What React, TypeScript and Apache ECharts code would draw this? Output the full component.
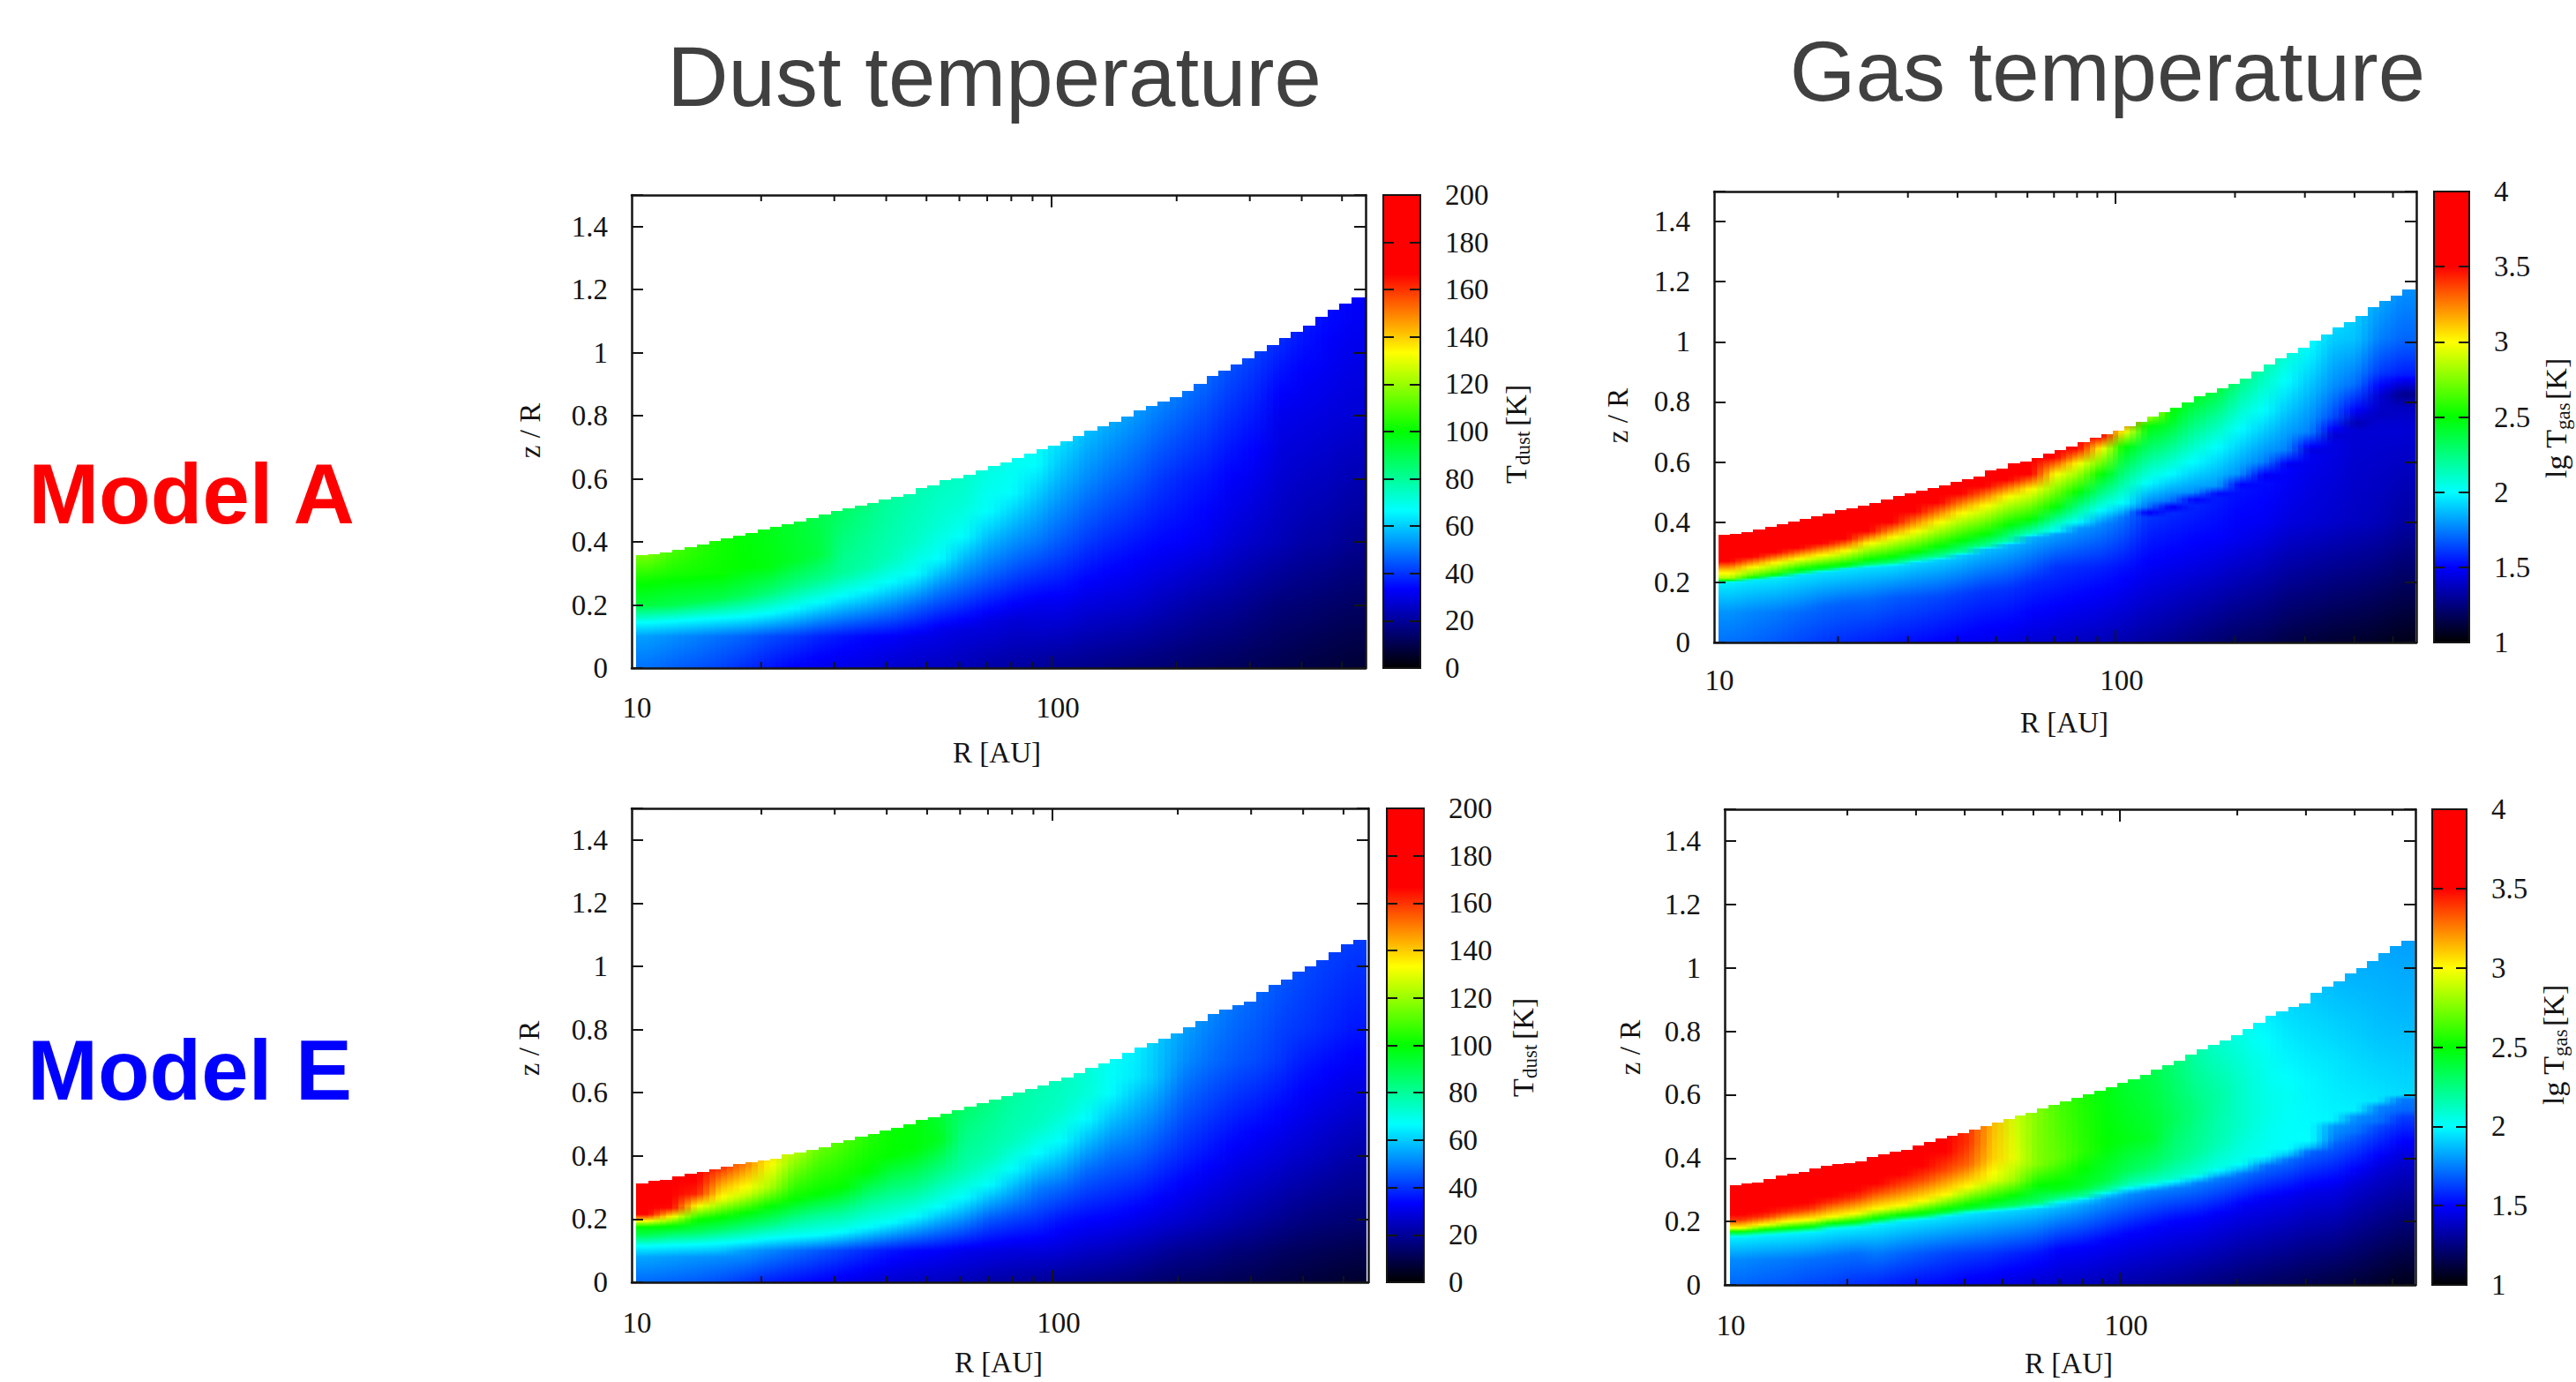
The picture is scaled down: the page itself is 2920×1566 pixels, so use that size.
import React, { useEffect, useRef } from "react";
import * as echarts from "echarts";

const radiusEdges = [10,10.7,11.4,12.2,13.1,14,15,16,17.1,18.3,19.6,21,22.4,24,25.7,27.5,29.4,31.4,33.6,36,38.4,41,43.9,47,50.2,53.7,57.4,61.4,65.7,70.3,75.2,80.4,86,92,98.3,105,112.5,120,128.7,137.6,147,157.5,168.5,180,192.7,206,220,236,252,270,288,308,330,353,377,403,431,461,493,527,569];
const surfaceA = [.358,.362,.368,.376,.384,.393,.403,.412,.42,.429,.439,.447,.455,.465,.475,.488,.497,.506,.514,.523,.535,.544,.551,.572,.578,.596,.603,.614,.628,.64,.652,.667,.681,.693,.704,.718,.735,.752,.766,.78,.797,.818,.832,.846,.86,.878,.9,.925,.944,.962,.981,1.005,1.025,1.047,1.066,1.085,1.115,1.136,1.155,1.175];
const surfaceE = [.314,.32,.323,.335,.344,.35,.357,.366,.375,.381,.385,.39,.404,.412,.42,.426,.44,.45,.461,.47,.48,.49,.501,.513,.522,.534,.544,.556,.568,.579,.59,.601,.613,.624,.636,.648,.661,.678,.692,.708,.725,.742,.757,.772,.788,.806,.826,.848,.862,.876,.888,.92,.94,.958,.982,1,1.02,1.045,1.07,1.085];
const minorTicks = [20,30,40,50,60,70,80,90,200,300,400,500];
const dustTicks = { min: 0, max: 200, interval: 20 };
const gasTicks = { min: 1, max: 4, interval: 0.5 };

// z/R, value pairs read up each column of each panel
const dustA = [
[0,48,.1,54,.145,67,.2,92,.28,102,.36,116],[0,46,.1,52,.15,67,.2,90,.3,103,.38,110],[0,44,.1,50,.155,67,.21,90,.3,102,.4,106],[0,42,.1,48,.16,67,.22,90,.3,101,.42,102],
[0,39,.1,46,.165,67,.23,88,.32,100,.44,99],[0,36,.1,43,.175,67,.24,85,.32,98,.46,97],[0,33,.1,41,.19,67,.26,83,.34,95,.48,94],[0,31,.1,38,.21,67,.28,82,.36,92,.5,90],
[0,30,.1,36,.23,67,.3,80,.52,88],[0,29,.1,34,.25,67,.32,78,.54,84],[0,27,.1,33,.2,52,.275,67,.35,76,.56,80],[0,26,.1,31,.2,47,.3,67,.4,74,.6,78],
[0,25,.12,31,.25,50,.35,67,.45,72,.62,76],[0,24,.12,29,.3,52,.42,67,.52,72,.65,75],[0,22,.15,30,.3,47,.5,67,.68,72],[0,21,.15,28,.35,48,.56,67,.72,70],
[0,20,.2,31,.4,49,.65,67,.72,68],[0,19,.2,31,.4,45,.6,57,.74,64],[0,18,.2,29,.4,41,.6,52,.78,60],[0,17,.2,28,.4,38,.6,48,.8,57],
[0,16,.2,27,.4,36,.6,45,.84,55],[0,15,.2,25,.4,34,.6,41,.86,52],[0,14,.2,23,.4,33,.6,38,.9,50],[0,13,.2,21,.4,31,.6,36,.95,48],
[0,12,.2,20,.4,28,.6,33,1,45],[0,11,.2,18,.4,26,.6,31,1.05,43],[0,10,.2,16,.4,24,.8,31,1.1,41],[0,9,.2,15,.4,22,.8,30,1.15,38],[0,8,.2,14,.4,21,.8,29,1.2,36],[0,7,.2,13,.4,19,.8,28,1.25,34]];

const gasA = [
[0,1.72,.1,1.79,.2,1.97,.208,2.6,.215,2.85,.24,3.1,.27,3.5,.36,3.65],[0,1.7,.1,1.76,.208,1.96,.214,2.45,.225,2.7,.25,3,.285,3.5,.38,3.65],[0,1.67,.1,1.74,.215,1.96,.222,2.4,.232,2.6,.265,3,.3,3.5,.4,3.65],[0,1.64,.1,1.71,.225,1.95,.232,2.35,.243,2.5,.278,3,.315,3.5,.42,3.65],
[0,1.61,.12,1.7,.235,1.95,.242,2.35,.252,2.5,.29,3,.33,3.5,.44,3.65],[0,1.58,.13,1.69,.245,1.95,.25,2.35,.26,2.5,.305,3,.345,3.5,.46,3.65],[0,1.56,.14,1.7,.25,1.94,.26,2.3,.275,2.5,.33,3,.37,3.5,.48,3.65],[0,1.54,.15,1.68,.255,1.94,.265,2.25,.285,2.5,.35,3,.4,3.5,.5,3.65],
[0,1.52,.15,1.66,.265,1.92,.275,2.2,.3,2.5,.37,3,.435,3.5,.52,3.62],[0,1.5,.15,1.64,.275,1.91,.285,2.2,.32,2.5,.4,3,.465,3.5,.54,3.6],[0,1.48,.16,1.62,.29,1.9,.3,2.2,.34,2.5,.43,3,.495,3.5,.56,3.6],[0,1.46,.17,1.6,.31,1.88,.32,2.2,.36,2.5,.455,3,.52,3.5,.59,3.6],
[0,1.45,.18,1.6,.325,1.87,.335,2.15,.39,2.5,.485,3,.54,3.5,.62,3.6],[0,1.42,.2,1.58,.35,1.85,.36,2.1,.41,2.5,.51,3,.56,3.5,.65,3.6],[0,1.4,.25,1.6,.36,1.82,.37,2,.39,2.1,.45,2.5,.56,3,.615,3.5,.67,3.6],[0,1.38,.25,1.58,.38,1.8,.4,2,.5,2.5,.595,3,.645,3.5,.69,3.6],
[0,1.36,.25,1.56,.395,1.77,.44,2,.56,2.5,.645,3,.685,3.5,.72,3.6],[0,1.34,.25,1.53,.415,1.72,.465,2,.65,2.5,.7,3,.74,3.4],[0,1.31,.3,1.52,.415,1.6,.432,1.48,.45,1.72,.53,2,.72,2.5,.76,2.95],[0,1.28,.3,1.5,.43,1.58,.45,1.47,.47,1.72,.56,2,.74,2.45,.8,2.55],
[0,1.25,.3,1.48,.455,1.57,.475,1.5,.5,1.78,.6,2,.82,2.45],[0,1.22,.35,1.5,.48,1.55,.495,1.52,.52,1.8,.65,2,.86,2.42],[0,1.19,.35,1.47,.505,1.53,.525,1.5,.56,1.78,.71,2,.92,2.33],[0,1.17,.4,1.48,.53,1.52,.555,1.48,.6,1.75,.77,2,.96,2.22],
[0,1.14,.4,1.44,.575,1.5,.59,1.47,.64,1.75,.87,2,1,2.12],[0,1.12,.4,1.42,.62,1.47,.64,1.44,.7,1.75,.95,1.97,1.05,2.03],[0,1.1,.4,1.4,.66,1.45,.69,1.42,.75,1.65,.85,1.78,1.1,1.97],[0,1.09,.4,1.38,.7,1.42,.73,1.35,.78,1.52,.86,1.72,1.01,1.88,1.15,1.92],[0,1.07,.4,1.36,.72,1.42,.76,1.38,.82,1.42,.9,1.62,1.01,1.75,1.2,1.87],[0,1.05,.4,1.32,.71,1.42,.78,1.38,.825,1.28,.89,1.55,1.01,1.7,1.25,1.82]];

const dustE = [
[0,47,.08,55,.115,67,.15,90,.175,100,.195,135,.215,167,.32,182],[0,46,.08,54,.118,67,.155,88,.18,102,.205,130,.235,165,.33,175],[0,45,.08,53,.12,67,.16,88,.2,102,.24,132,.28,162,.35,170],[0,43,.08,52,.125,67,.17,88,.21,102,.26,130,.36,160],
[0,40,.1,54,.13,67,.175,85,.22,100,.28,128,.37,150],[0,37,.1,51,.14,67,.185,84,.24,100,.3,122,.39,136],[0,35,.1,48,.145,67,.2,82,.26,100,.41,124],[0,33,.1,45,.15,67,.21,80,.28,100,.43,114],
[0,31,.1,42,.16,67,.22,80,.3,100,.45,110],[0,29,.1,39,.175,67,.25,80,.35,100,.47,105],[0,27,.1,36,.19,67,.27,80,.4,100,.5,101],[0,26,.1,34,.21,67,.3,82,.42,99,.52,99],
[0,25,.1,33,.24,67,.33,80,.45,96,.55,93],[0,24,.1,31,.27,67,.36,78,.58,88],[0,22,.1,30,.2,45,.31,67,.4,77,.6,84],[0,21,.1,29,.2,42,.36,67,.45,76,.62,80],
[0,20,.1,29,.3,50,.41,67,.5,75,.66,78],[0,19,.1,28,.2,36,.3,47,.45,67,.55,74,.7,76],[0,18,.1,26,.2,34,.35,47,.52,67,.6,72,.75,73],[0,17,.1,25,.2,33,.4,48,.6,67,.8,69],
[0,16,.1,23,.2,31,.4,46,.65,64,.84,66],[0,14,.1,21,.2,29,.4,42,.65,58,.9,61],[0,13,.1,19,.2,27,.4,38,.7,52,.95,58],[0,12,.1,18,.2,25,.4,35,.7,48,1,55],
[0,11,.1,16,.2,23,.4,32,.7,45,1.05,52],[0,10,.1,15,.2,21,.4,30,.7,43,1.1,50],[0,9,.1,13,.2,19,.4,28,.7,40,1.1,47],[0,8,.1,12,.2,17,.4,26,.8,40,1.15,45],[0,7,.1,11,.2,16,.4,24,.8,38,1.2,44],[0,6,.1,10,.2,15,.4,22,.8,36,1.2,43]];

const gasE = [
[0,1.7,.08,1.77,.15,1.97,.165,2.4,.18,3,.205,3.4,.23,3.55,.32,3.65],[0,1.68,.08,1.75,.155,1.97,.17,2.4,.19,3,.215,3.4,.24,3.55,.33,3.65],[0,1.66,.08,1.74,.16,1.97,.175,2.4,.2,3,.23,3.4,.26,3.55,.35,3.65],[0,1.64,.08,1.72,.165,1.97,.18,2.4,.205,3,.24,3.4,.27,3.55,.36,3.65],
[0,1.62,.09,1.72,.175,1.97,.19,2.4,.215,3,.26,3.4,.29,3.55,.38,3.65],[0,1.59,.1,1.72,.18,1.97,.195,2.4,.225,3,.275,3.4,.31,3.55,.4,3.65],[0,1.57,.1,1.74,.19,1.97,.205,2.4,.24,3,.29,3.35,.33,3.55,.42,3.65],[0,1.54,.1,1.7,.2,1.96,.215,2.4,.25,3,.31,3.35,.36,3.55,.44,3.65],
[0,1.52,.1,1.67,.205,1.95,.22,2.4,.265,3,.33,3.35,.39,3.55,.46,3.62],[0,1.5,.1,1.64,.215,1.95,.23,2.4,.285,3,.36,3.35,.42,3.5,.48,3.55],[0,1.47,.1,1.62,.225,1.95,.24,2.4,.31,3,.38,3.3,.45,3.4,.5,3.4],[0,1.45,.1,1.6,.23,1.93,.245,2.35,.33,2.95,.4,3.1,.52,3.15],
[0,1.43,.1,1.57,.235,1.92,.25,2.3,.33,2.8,.4,2.95,.54,2.9],[0,1.41,.1,1.54,.24,1.9,.26,2.3,.38,2.75,.56,2.75],[0,1.39,.11,1.5,.24,1.85,.258,1.95,.27,2.2,.3,2.45,.4,2.68,.58,2.63],[0,1.37,.12,1.5,.25,1.82,.268,1.93,.28,2.2,.31,2.42,.42,2.58,.6,2.55],
[0,1.35,.14,1.5,.27,1.8,.285,1.93,.3,2.2,.33,2.38,.44,2.5,.63,2.47],[0,1.33,.16,1.5,.285,1.78,.3,1.93,.315,2.15,.36,2.33,.46,2.46,.66,2.4],[0,1.31,.18,1.5,.295,1.75,.31,1.93,.325,2.12,.37,2.28,.46,2.42,.7,2.35],[0,1.29,.2,1.5,.305,1.75,.32,1.92,.335,2.1,.4,2.25,.52,2.33,.73,2.27],
[0,1.26,.21,1.5,.32,1.75,.335,1.92,.35,2.08,.42,2.2,.55,2.25,.76,2.16],[0,1.24,.22,1.48,.335,1.74,.35,1.9,.37,2.05,.45,2.15,.6,2.18,.8,2.08],[0,1.21,.25,1.48,.35,1.73,.365,1.88,.385,2.03,.5,2.1,.65,2.1,.85,2.02],[0,1.19,.27,1.48,.375,1.72,.39,1.88,.41,2.02,.55,2.05,.7,2.03,.9,1.95],
[0,1.17,.28,1.47,.395,1.72,.41,1.88,.43,2,.6,2.02,.95,1.9],[0,1.15,.29,1.45,.42,1.7,.435,1.88,.455,2,.65,1.98,1,1.87],[0,1.13,.3,1.45,.445,1.7,.46,1.75,.5,1.8,.52,1.98,.7,1.95,1,1.85],[0,1.11,.32,1.42,.47,1.68,.48,1.72,.53,1.78,.55,1.97,.8,1.9,1.05,1.83],[0,1.08,.36,1.42,.5,1.65,.515,1.72,.56,1.76,.58,1.95,.8,1.88,1.1,1.82],[0,1.05,.4,1.42,.53,1.62,.55,1.7,.585,1.74,.6,1.93,.85,1.86,1.15,1.8]];

const paletteAt = [0, 1 / 6, 2 / 6, 3 / 6, 4 / 6, 5 / 6, 1];
const paletteRgb = [[0,0,0],[0,0,255],[0,255,255],[0,255,0],[255,255,0],[255,0,0],[255,0,0]];

function colorAt(t: number) {
  const c = Math.max(0, Math.min(1, t));
  let i = 0;
  while (i < paletteAt.length - 2 && c > paletteAt[i + 1]) i++;
  const f = (c - paletteAt[i]) / (paletteAt[i + 1] - paletteAt[i]);
  const m = paletteRgb[i].map((a, j) => Math.round(a + (paletteRgb[i + 1][j] - a) * f));
  return `rgb(${m[0]},${m[1]},${m[2]})`;
}

function colorStops(profile: number[], lo: number, hi: number) {
  const zEnd = profile[profile.length - 2];
  const stops: { offset: number; color: string }[] = [];
  for (let i = 0; i + 1 < profile.length; i += 2) {
    const z = profile[i];
    const t = (profile[i + 1] - lo) / (hi - lo);
    if (i > 0) {
      const pz = profile[i - 2];
      const pt = (profile[i - 1] - lo) / (hi - lo);
      const crossing = paletteAt.filter((p) => (p > pt && p < t) || (p < pt && p > t));
      if (t < pt) crossing.reverse();
      crossing.forEach((p) => {
        stops.push({ offset: (pz + ((p - pt) / (t - pt)) * (z - pz)) / zEnd, color: colorAt(p) });
      });
    }
    stops.push({ offset: z / zEnd, color: colorAt(t) });
  }
  return stops;
}

const INK = "#141414";
const SERIF = "'Liberation Serif', 'Times New Roman', serif";
const SANS = "'Liberation Sans', Arial, sans-serif";

type Panel = {
  left: number; right: number; top: number; bottom: number; r10: number; decade: number;
  barL: number; barR: number; profiles: number[][]; surface: number[]; scale: typeof dustTicks;
  labelOffset: number; zLabel: [number, number]; rLabel: [number, number]; barTitle: [number, number];
  sub: string; prefix: string;
};

const panels: Panel[] = [
  { left: 716, right: 1548, top: 221, bottom: 757, r10: 721, decade: 471, barL: 1568, barR: 1610, profiles: dustA, surface: surfaceA, scale: dustTicks, labelOffset: 45, zLabel: [601, 488], rLabel: [1130, 853], barTitle: [1718, 490], sub: "dust", prefix: "T" },
  { left: 1943, right: 2739, top: 217, bottom: 728, r10: 1948, decade: 450, barL: 2759, barR: 2799, profiles: gasA, surface: surfaceA, scale: gasTicks, labelOffset: 43, zLabel: [1834, 471], rLabel: [2340, 819], barTitle: [2897, 473], sub: "gas", prefix: "lg T" },
  { left: 716, right: 1551, top: 916, bottom: 1453, r10: 721, decade: 472, barL: 1572, barR: 1614, profiles: dustE, surface: surfaceE, scale: dustTicks, labelOffset: 46, zLabel: [600, 1188], rLabel: [1132, 1544], barTitle: [1726, 1185], sub: "dust", prefix: "T" },
  { left: 1955, right: 2738, top: 917, bottom: 1456, r10: 1961, decade: 442, barL: 2757, barR: 2796, profiles: gasE, surface: surfaceE, scale: gasTicks, labelOffset: 46, zLabel: [1848, 1187], rLabel: [2345, 1545], barTitle: [2894, 1183], sub: "gas", prefix: "lg T" },
];

function buildOption() {
  const grid: any[] = [];
  const xAxis: any[] = [];
  const yAxis: any[] = [];
  const series: any[] = [];
  const graphic: any[] = [];
  const line = { show: true, onZero: false, lineStyle: { color: INK, width: 2.5 } };
  const tick = (len: number) => ({ show: true, inside: true, length: len, lineStyle: { color: INK, width: 2 } });

  panels.forEach((p) => {
    const g = grid.length;
    grid.push({ left: p.left, top: p.top, width: p.right - p.left, height: p.bottom - p.top });
    const rMin = Math.pow(10, 1 - (p.r10 - p.left) / p.decade);
    const rMax = Math.pow(10, 1 + (p.right - p.r10) / p.decade);
    const xi = xAxis.length;
    const yi = yAxis.length;
    ["bottom", "top"].forEach((position) => {
      xAxis.push({ type: "log", gridIndex: g, position, min: rMin, max: rMax, z: 10, axisLine: line, axisTick: { show: false }, axisLabel: { show: false }, splitLine: { show: false }, minorTick: { show: false } });
    });
    ["left", "right"].forEach((position, side) => {
      yAxis.push({
        type: "value", gridIndex: g, position, min: 0, max: 1.5, interval: 0.2, z: 10, axisLine: line, axisTick: tick(13), splitLine: { show: false },
        axisLabel: { show: side === 0, margin: 27, color: INK, fontFamily: SERIF, fontSize: 33, formatter: (v: number) => (v > 1.45 ? "" : String(+v.toFixed(1))) },
      });
    });
    const onAxes = { xAxisIndex: xi, yAxisIndex: yi, silent: true, clip: false };
    const cells = p.surface.map((top, k) => [radiusEdges[k], radiusEdges[k + 1], top, k]);
    const last = p.profiles.length - 1;
    series.push({
      ...onAxes, type: "custom", z: 2, encode: { x: 0, y: 2 }, data: cells,
      renderItem: (_: any, api: any) => {
        const k = api.value(3);
        const a = api.coord([api.value(0), 0]);
        const b = api.coord([api.value(1), api.value(2)]);
        const x0 = Math.round(a[0]);
        const x2 = Math.round(b[0]);
        const x1 = Math.round((a[0] + b[0]) / 2);
        const y = Math.round(b[1]);
        const paint = (profile: number[], x: number, w: number, opacity: number) => {
          const end = api.coord([api.value(0), profile[profile.length - 2]]);
          return {
            type: "rect",
            shape: { x, y, width: w, height: a[1] - y },
            style: {
              opacity,
              fill: { type: "linear", global: true, x: 0, y: a[1], x2: 0, y2: end[1], colorStops: colorStops(profile, p.scale.min, p.scale.max) },
              stroke: null,
            },
          };
        };
        const children: any[] = [];
        [[x0, x1, 0], [x1, x2, 1]].forEach(([xa, xb, j]) => {
          // shade each slice between the two columns it lies between
          const s = (k + (j + 0.5) / 2) / 2 - 0.5;
          const i = Math.max(0, Math.min(last, Math.floor(s)));
          const f = s - Math.floor(s);
          const w = xb - xa + 1;
          children.push(paint(p.profiles[i], xa, k === p.surface.length - 1 && j === 1 ? w - 1 : w, 1));
          if (s >= 0 && i < last) children.push(paint(p.profiles[i + 1], xa, w, f));
        });
        return { type: "group", children };
      },
    });
    series.push({
      ...onAxes, type: "custom", z: 11, encode: { x: 0, y: 1 }, data: [...minorTicks, 100].map((v) => [v, 0]),
      renderItem: (_: any, api: any) => {
        const v = api.value(0);
        const x = api.coord([v, 0])[0];
        const len = v === 100 ? 14 : 7;
        const st = { stroke: INK, lineWidth: 2 };
        return {
          type: "group",
          children: [
            { type: "line", shape: { x1: x, y1: p.bottom, x2: x, y2: p.bottom - len }, style: st },
            { type: "line", shape: { x1: x, y1: p.top, x2: x, y2: p.top + len }, style: st },
          ],
        };
      },
    });
    series.push({
      ...onAxes, type: "custom", z: 11, encode: { x: 0, y: 1 }, data: [[10, 0], [100, 0]],
      renderItem: (_: any, api: any) => {
        const v = api.value(0);
        const x = api.coord([v, 0])[0];
        return {
          type: "text", x: x + (v === 100 ? 7 : 1), y: p.bottom + p.labelOffset,
          style: { text: String(v), fill: INK, font: `33px ${SERIF}`, align: "center", verticalAlign: "middle" },
        };
      },
    });

    // colour bar
    const cg = grid.length;
    grid.push({ left: p.barL, top: p.top, width: p.barR - p.barL, height: p.bottom - p.top });
    const cxi = xAxis.length;
    const cyi = yAxis.length;
    xAxis.push({ type: "value", gridIndex: cg, min: 0, max: 1, show: false });
    ["left", "right"].forEach((position, side) => {
      yAxis.push({
        type: "value", gridIndex: cg, position, min: p.scale.min, max: p.scale.max, interval: p.scale.interval, z: 10, axisLine: { ...line, lineStyle: { color: INK, width: 2 } }, axisTick: tick(12), splitLine: { show: false },
        axisLabel: { show: side === 1, margin: 28, color: INK, fontFamily: SERIF, fontSize: 33 },
      });
    });
    series.push({
      type: "custom", xAxisIndex: cxi, yAxisIndex: cyi, silent: true, z: 2, encode: { x: 0, y: 1 }, data: [[0, p.scale.min, p.scale.max]],
      renderItem: (_: any, api: any) => {
        const a = api.coord([0, api.value(1)]);
        const b = api.coord([1, api.value(2)]);
        return {
          type: "rect", shape: { x: a[0], y: b[1], width: b[0] - a[0], height: a[1] - b[1] },
          style: {
            fill: { type: "linear", global: true, x: 0, y: a[1], x2: 0, y2: b[1], colorStops: paletteAt.map((o) => ({ offset: o, color: colorAt(o) })) },
            stroke: INK, lineWidth: 2,
          },
        };
      },
    });

    // axis titles
    graphic.push({ type: "text", x: p.zLabel[0], y: p.zLabel[1], rotation: Math.PI / 2, style: { text: "z / R", fill: INK, font: `33px ${SERIF}`, align: "center", verticalAlign: "middle" } });
    graphic.push({ type: "text", x: p.rLabel[0], y: p.rLabel[1], style: { text: "R [AU]", fill: INK, font: `33px ${SERIF}`, align: "center", verticalAlign: "middle" } });
    const isGas = p.sub === "gas";
    const start = isGas ? -69 : -58;
    graphic.push({
      type: "group", x: p.barTitle[0], y: p.barTitle[1], rotation: Math.PI / 2,
      children: [
        { type: "text", x: start, y: 0, style: { text: p.prefix, fill: INK, font: `34px ${SERIF}`, align: "left", verticalAlign: "middle" } },
        { type: "text", x: start + (isGas ? 55 : 21), y: 8, style: { text: p.sub, fill: INK, font: `23px ${SERIF}`, align: "left", verticalAlign: "middle" } },
        { type: "text", x: start + (isGas ? 89 : 65), y: 0, style: { text: "[K]", fill: INK, font: `34px ${SERIF}`, align: "left", verticalAlign: "middle" } },
      ],
    });
  });

  const titles: [string, number, number, string, string][] = [
    ["Dust temperature", 1127, 86, "#404040", `96px ${SANS}`],
    ["Gas temperature", 2389, 80, "#404040", `96px ${SANS}`],
    ["Model A", 217, 559, "#ff0000", `bold 96px ${SANS}`],
    ["Model E", 215, 1212, "#0000ff", `bold 96px ${SANS}`],
  ];
  titles.forEach(([text, x, y, fill, font]) => {
    graphic.push({ type: "text", x, y, style: { text, fill, font, align: "center", verticalAlign: "middle" } });
  });

  return { animation: false, backgroundColor: "#ffffff", grid, xAxis, yAxis, series, graphic };
}

export default function App() {
  const ref = useRef<HTMLDivElement>(null);
  useEffect(() => {
    document.body.style.margin = "0";
    const chart = echarts.init(ref.current!, null, { renderer: "svg" });
    chart.setOption(buildOption() as any);
    return () => chart.dispose();
  }, []);
  return <div ref={ref} style={{ position: "fixed", left: 0, top: 0, width: 2920, height: 1566 }} />;
}
